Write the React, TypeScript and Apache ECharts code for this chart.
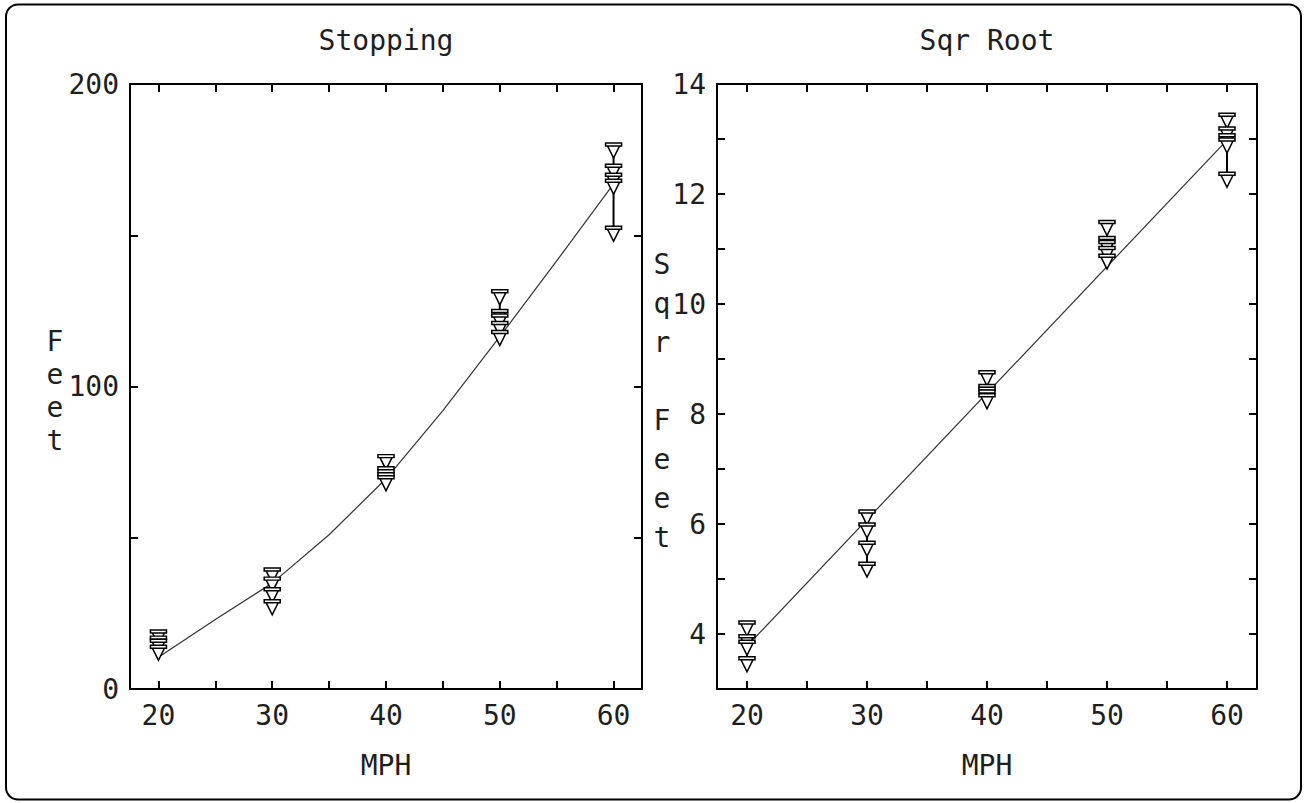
import { useEffect, useRef } from "react";
import * as echarts from "echarts";

// ---- data ----
const speedGroups = [20, 30, 40, 50, 60];
const feet20 = [17, 15, 14, 12];
const feet30 = [37.5, 34.5, 31, 27];
const feet40 = [75, 71, 70, 69, 68];
const feet50 = [129.5, 123, 121.5, 119, 116];
const feet60 = [178, 171, 168, 166, 150.5];
const feetByGroup = [feet20, feet30, feet40, feet50, feet60];

const sqr20 = [4.1, 3.85, 3.75, 3.45];
const sqr30 = [6.12, 5.88, 5.55, 5.17];
const sqr40 = [8.65, 8.4, 8.35, 8.3, 8.23];
const sqr50 = [11.38, 11.09, 11.02, 10.91, 10.77];
const sqr60 = [13.33, 13.08, 12.96, 12.88, 12.26];
const sqrByGroup = [sqr20, sqr30, sqr40, sqr50, sqr60];

const fitFeetMph = [20, 25, 30, 35, 40, 45, 50, 55, 60];
const fitFeet = [10.5, 23, 35, 51, 69.5, 92, 116.5, 141.5, 167];
const fitSqrMph = [20, 60];
const fitSqr = [3.78, 12.98];

const xTickValues = [20, 25, 30, 35, 40, 45, 50, 55, 60];
const xLabelValues = [20, 30, 40, 50, 60];
const feetTickValues = [0, 50, 100, 150, 200];
const feetLabelValues = [0, 100, 200];
const sqrTickValues = [3, 4, 5, 6, 7, 8, 9, 10, 11, 12, 13, 14];
const sqrLabelValues = [4, 6, 8, 10, 12, 14];

const FONT = "DejaVu Sans Mono";
const TXT = "#1e1e1e";
const MARKER = "path://M0,0L16,0L16,3L0,3ZM2,3L14,3L8,15Z";

function xAxesFor(gridIndex: number) {
  const common = {
    type: "value",
    gridIndex,
    min: 17.5,
    max: 62.5,
    splitLine: { show: false },
    axisLine: { show: true, onZero: false, lineStyle: { color: "#000", width: 2 } },
  };
  return [
    {
      ...common,
      position: "bottom",
      axisTick: { show: true, inside: true, length: 8, customValues: xTickValues, lineStyle: { color: "#000", width: 2 } },
      axisLabel: { show: true, customValues: xLabelValues, margin: 12, fontFamily: FONT, fontSize: 28, color: TXT },
    },
    {
      ...common,
      position: "top",
      axisTick: { show: true, inside: true, length: 8, customValues: xTickValues, lineStyle: { color: "#000", width: 2 } },
      axisLabel: { show: false },
    },
  ];
}

function yAxesFor(gridIndex: number, min: number, max: number, ticks: number[], labels: number[]) {
  const common = {
    type: "value",
    gridIndex,
    min,
    max,
    splitLine: { show: false },
    axisLine: { show: true, onZero: false, lineStyle: { color: "#000", width: 2 } },
  };
  return [
    {
      ...common,
      position: "left",
      axisTick: { show: true, inside: true, length: 8, customValues: ticks, lineStyle: { color: "#000", width: 2 } },
      axisLabel: { show: true, customValues: labels, margin: 11, fontFamily: FONT, fontSize: 28, color: TXT },
    },
    {
      ...common,
      position: "right",
      axisTick: { show: true, inside: true, length: 8, customValues: ticks, lineStyle: { color: "#000", width: 2 } },
      axisLabel: { show: false },
    },
  ];
}

function pointsOf(groups: number[][]) {
  const pts: number[][] = [];
  groups.forEach((vals, i) => vals.forEach((v) => pts.push([speedGroups[i], v])));
  return pts;
}

function rangeSeries(groups: number[][], xi: number, yi: number) {
  return groups.map((vals, i) => ({
    type: "line",
    xAxisIndex: xi,
    yAxisIndex: yi,
    symbol: "none",
    silent: true,
    lineStyle: { color: "#000", width: 2 },
    data: [
      [speedGroups[i], Math.max(...vals)],
      [speedGroups[i], Math.min(...vals)],
    ],
    z: 3,
  }));
}

function fitSeries(xs: number[], ys: number[], xi: number, yi: number) {
  return {
    type: "line",
    xAxisIndex: xi,
    yAxisIndex: yi,
    symbol: "none",
    silent: true,
    lineStyle: { color: "#333", width: 1.2 },
    data: xs.map((x, i) => [x, ys[i]]),
    z: 2,
  };
}

function scatterSeries(groups: number[][], xi: number, yi: number) {
  return {
    type: "scatter",
    xAxisIndex: xi,
    yAxisIndex: yi,
    symbol: MARKER,
    symbolSize: [16, 15],
    itemStyle: { color: "#fff", borderColor: "#000", borderWidth: 1.5, opacity: 1 },
    data: pointsOf(groups),
    z: 4,
  };
}

function letters(text: string, x: number, y0: number, step: number) {
  return text.split("").map((ch, i) => ({
    type: "text",
    x,
    y: y0 + i * step,
    style: { text: ch, font: `28px "${FONT}"`, fill: TXT, align: "center", verticalAlign: "middle" },
  }));
}

export default function App() {
  const ref = useRef<HTMLDivElement>(null);
  useEffect(() => {
    if (!ref.current) return;
    const chart = echarts.init(ref.current, null, { renderer: "svg" });
    const textStyle = (text: string, x: number, y: number) => ({
      type: "text",
      x,
      y,
      style: { text, font: `28px "${FONT}"`, fill: TXT, align: "center", verticalAlign: "middle" },
    });
    chart.setOption({
      animation: false,
      backgroundColor: "#fff",
      grid: [
        { left: 130, top: 84, width: 512, height: 605 },
        { left: 717, top: 84, width: 540, height: 605 },
      ],
      xAxis: [...xAxesFor(0), ...xAxesFor(1)],
      yAxis: [
        ...yAxesFor(0, 0, 200, feetTickValues, feetLabelValues),
        ...yAxesFor(1, 3, 14, sqrTickValues, sqrLabelValues),
      ],
      series: [
        fitSeries(fitFeetMph, fitFeet, 0, 0),
        ...rangeSeries(feetByGroup, 0, 0),
        scatterSeries(feetByGroup, 0, 0),
        fitSeries(fitSqrMph, fitSqr, 2, 2),
        ...rangeSeries(sqrByGroup, 2, 2),
        scatterSeries(sqrByGroup, 2, 2),
      ],
      graphic: [
        {
          type: "rect",
          shape: { x: 6, y: 4.5, width: 1295, height: 795, r: 12 },
          style: { fill: "none", stroke: "#000", lineWidth: 2 },
          silent: true,
        },
        textStyle("Stopping", 386, 40),
        textStyle("Sqr Root", 987, 40),
        textStyle("MPH", 386, 765),
        textStyle("MPH", 987, 765),
        ...letters("Feet", 55, 341, 33),
        ...letters("Sqr Feet", 662, 264, 39),
      ],
    });
    return () => chart.dispose();
  }, []);
  return (
    <div
      ref={ref}
      style={{ position: "fixed", left: 0, top: 0, width: 1304, height: 803, background: "#fff" }}
    />
  );
}
